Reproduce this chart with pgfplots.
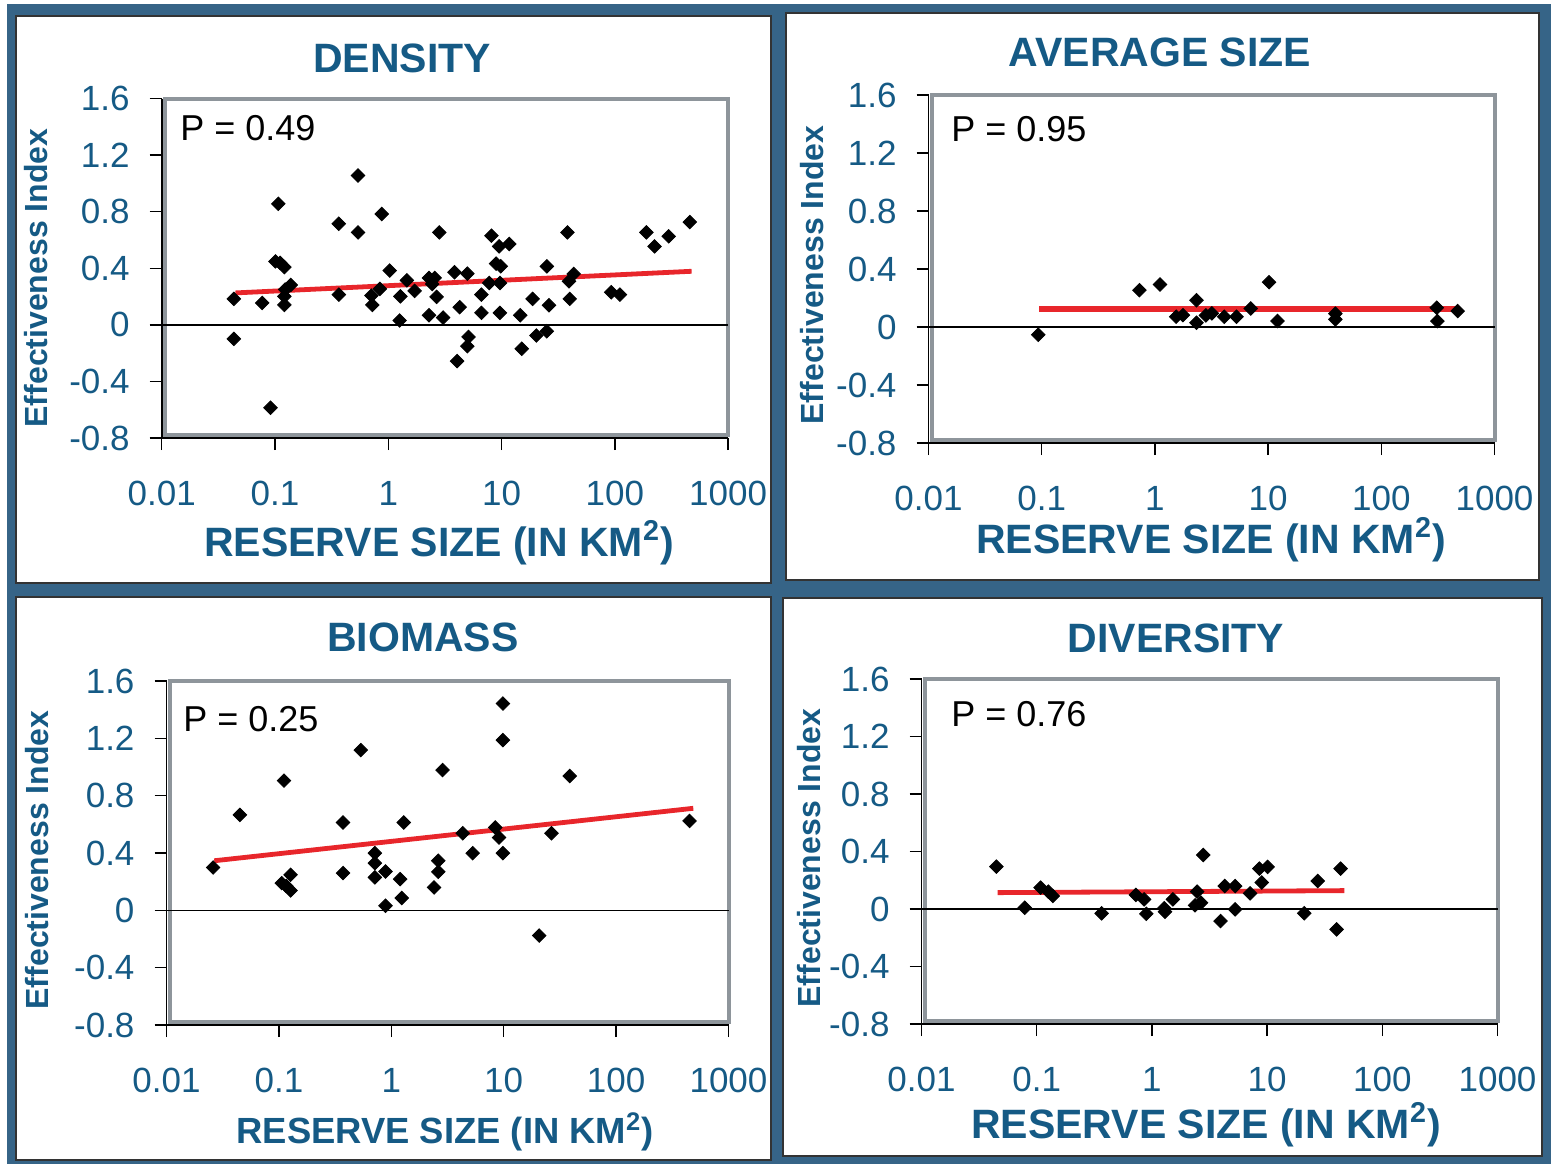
\documentclass[border=0pt]{standalone}
\usepackage{fontspec}
\setmainfont{Liberation Sans}
\usepackage{pgfplots}
\pgfplotsset{compat=1.18}

\definecolor{bgblue}{HTML}{366487}
\definecolor{txtblue}{HTML}{155A85}
\definecolor{framegray}{HTML}{8E959B}
\definecolor{trendred}{HTML}{E8262B}

\pgfplotsset{
  reservepanel/.style={
    scale only axis,
    xmin=0.01, xmax=1000, ymin=-0.8, ymax=1.6,
    xtick={0.01,0.1,1,10,100,1000},
    xticklabels={0.01,0.1,1,10,100,1000},
    ytick={-0.8,-0.4,0,0.4,0.8,1.2,1.6},
    yticklabels={-0.8,-0.4,0,0.4,0.8,1.2,1.6},
    xminorticks=false, yminorticks=false,
    axis line style={draw=none},
    tick align=outside, xtick pos=left, ytick pos=left,
    major tick length=6pt,
    every tick/.style={black, line width=0.7pt},
    tick label style={text=txtblue, font=\fontsize{17.5}{20}\selectfont},
    xticklabel style={anchor=base, yshift=-27.5pt},
    yticklabel style={anchor=base east, xshift=-6.5pt, yshift=-6pt},
    clip=false,
  },
  sitepts/.style={only marks, mark=square*, mark size=2.4pt,
    mark options={rotate=45, fill=black, draw=black}},
  trendline/.style={trendred, line width=2.4pt, no marks},
}

% plot-area decoration: grey frame, black axis lines and the zero line
\newcommand{\panelframe}{%
  \draw[framegray, line width=2pt] ([shift={(1.6pt,1.6pt)}]rel axis cs:0,0) rectangle (rel axis cs:1,1);
  \draw[black, line width=0.9pt] (rel axis cs:0,1) -- (rel axis cs:0,0) -- (rel axis cs:1,0);
  \draw[black, line width=0.7pt] (axis cs:0.01,0) -- (axis cs:1000,0);
}

\newcommand{\ptitle}[3]{\node[anchor=base, text=txtblue, font=\bfseries\fontsize{20.5}{24}\selectfont] at (#1,#2) {#3};}
\newcommand{\pxlabel}[3]{\node[anchor=base, text=txtblue, font=\bfseries\fontsize{#3}{24}\selectfont] at (#1,#2) {RESERVE SIZE (IN KM\textsuperscript{2})};}
\newcommand{\pylabel}[2]{\node[anchor=base, rotate=90, text=txtblue, font=\bfseries\fontsize{16}{19}\selectfont] at (#1,#2) {Effectiveness Index};}
\newcommand{\pval}[3]{\node[anchor=base west, inner sep=0pt, font=\fontsize{18}{21}\selectfont] at (#1,#2) {#3};}

\begin{document}
\begin{tikzpicture}[x=0.5pt, y=-0.5pt]
\useasboundingbox (0,0) rectangle (1551,1164);
\fill[white] (0,0) rectangle (1551,1164);
\fill[bgblue] (7,4) rectangle (1551,1164);
\filldraw[fill=white, draw=black!80, line width=0.8pt] (16,16) rectangle (771,583);
\filldraw[fill=white, draw=black!80, line width=0.8pt] (786,13) rectangle (1539,580);
\filldraw[fill=white, draw=black!80, line width=0.8pt] (16,597) rectangle (771,1160);
\filldraw[fill=white, draw=black!80, line width=0.8pt] (783,598) rectangle (1542,1156);

% ---------------- DENSITY ----------------
\begin{semilogxaxis}[reservepanel, at={(80.85pt,-219pt)}, anchor=south west, width=283.2pt, height=169.7pt]
\panelframe
\addplot[sitepts] coordinates {
(0.0433,0.184) (0.0433,-0.099) (0.0771,0.155) (0.0914,-0.586) (0.107,0.856)
(0.101,0.449) (0.111,0.438) (0.121,0.409) (0.121,0.202) (0.121,0.141)
(0.138,0.282) (0.123,0.250) (0.366,0.715) (0.366,0.214) (0.541,1.056)
(0.541,0.654) (0.877,0.784) (0.711,0.207) (0.723,0.141) (0.843,0.254)
(1.03,0.384) (1.26,0.031) (1.28,0.202) (1.46,0.315) (1.71,0.240)
(2.29,0.332) (2.57,0.332) (2.44,0.289) (2.29,0.068) (2.67,0.198)
(2.82,0.654) (3.05,0.052) (3.85,0.372) (4.99,0.362) (4.27,0.125)
(4.05,-0.256) (5.11,-0.085) (4.99,-0.151) (6.65,0.214) (6.65,0.085)
(7.78,0.296) (8.15,0.631) (9.53,0.555) (11.7,0.572) (8.95,0.433)
(9.84,0.414) (9.68,0.296) (9.68,0.085) (14.6,0.068) (15.1,-0.169)
(18.8,0.184) (20.3,-0.075) (25.1,-0.045) (26.2,0.139) (25.1,0.414)
(38.2,0.654) (40.0,0.184) (39.4,0.308) (43.3,0.360) (92.9,0.231)
(111,0.214) (190,0.654) (224,0.555) (299,0.626) (459,0.727)
};
\addplot[trendline] coordinates {(0.0447,0.226) (476,0.379)};
\end{semilogxaxis}
\ptitle{402}{72}{DENSITY}
\pxlabel{439}{556}{20.5}
\pylabel{47}{278}
\pval{180}{140}{P = 0.49}

% ---------------- AVERAGE SIZE ----------------
\begin{semilogxaxis}[reservepanel, at={(464.25pt,-221.5pt)}, anchor=south west, width=283pt, height=174pt]
\panelframe
\addplot[sitepts] coordinates {
(0.0933,-0.053) (0.730,0.254) (1.11,0.293) (2.33,0.185) (2.33,0.030)
(1.54,0.071) (1.77,0.082) (2.82,0.080) (3.18,0.094) (4.10,0.071)
(5.26,0.071) (7.03,0.128) (10.2,0.309) (12.1,0.041) (39.3,0.092)
(39.3,0.053) (309,0.133) (313,0.041) (473,0.110)
};
\addplot[trendline, line width=3pt] coordinates {(0.0955,0.126) (500,0.126)};
\end{semilogxaxis}
\ptitle{1160}{66}{AVERAGE SIZE}
\pxlabel{1211}{553}{20.5}
\pylabel{823}{275}
\pval{951}{141}{P = 0.95}

% ---------------- BIOMASS ----------------
\begin{semilogxaxis}[reservepanel, at={(83.25pt,-512.5pt)}, anchor=south west, width=281pt, height=172pt]
\panelframe
\addplot[sitepts] coordinates {
(0.026,0.299) (0.045,0.666) (0.111,0.905) (0.106,0.190) (0.127,0.248)
(0.127,0.139) (0.116,0.170) (0.372,0.613) (0.372,0.260) (0.535,1.118)
(0.714,0.399) (0.714,0.329) (0.714,0.230) (0.889,0.271) (0.889,0.032)
(1.20,0.218) (1.24,0.086) (1.29,0.613) (2.40,0.160) (2.62,0.346)
(2.62,0.269) (2.86,0.979) (4.33,0.538) (5.30,0.399) (8.41,0.578)
(9.10,0.508) (9.84,0.399) (9.84,1.443) (9.84,1.188) (20.7,-0.176)
(26.6,0.538) (38.7,0.937) (450,0.624)
};
\addplot[trendline] coordinates {(0.0266,0.346) (486,0.712)};
\end{semilogxaxis}
\ptitle{423}{651}{BIOMASS}
\pxlabel{445}{1143}{18.2}
\pylabel{48}{860}
\pval{183}{731}{P = 0.25}

% ---------------- DIVERSITY ----------------
\begin{semilogxaxis}[reservepanel, at={(460.75pt,-512pt)}, anchor=south west, width=288pt, height=172.5pt]
\panelframe
\addplot[sitepts] coordinates {
(0.0447,0.295) (0.0787,0.009) (0.108,0.149) (0.126,0.121) (0.138,0.091)
(0.366,-0.030) (0.726,0.098) (0.855,0.067) (0.895,-0.033) (1.28,0.005)
(1.30,-0.019) (1.52,0.067) (2.37,0.026) (2.47,0.121) (2.67,0.044)
(2.79,0.376) (3.94,-0.084) (4.29,0.160) (5.28,0.160) (5.28,-0.002)
(7.11,0.109) (8.57,0.281) (10.1,0.293) (8.98,0.184) (21.0,-0.030)
(27.5,0.195) (40.1,-0.142) (43.4,0.281)
};
\addplot[trendline] coordinates {(0.0457,0.114) (46.9,0.128)};
\end{semilogxaxis}
\ptitle{1176}{652}{DIVERSITY}
\pxlabel{1206}{1138}{20.5}
\pylabel{820}{858}
\pval{951}{726}{P = 0.76}
\end{tikzpicture}
\end{document}
